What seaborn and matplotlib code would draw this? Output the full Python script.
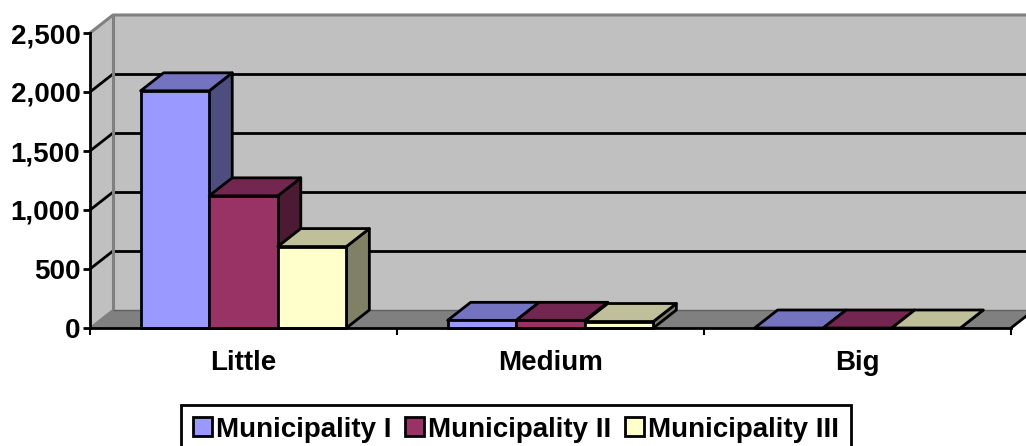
import numpy as np
import pandas as pd
import seaborn as sns
from matplotlib import pyplot as plt
from matplotlib.patches import Polygon

categories = ['Little', 'Medium', 'Big']
municipality_1 = [2010, 65, 0]
municipality_2 = [1120, 65, 0]
municipality_3 = [690, 55, 0]
series_names = ['Municipality I', 'Municipality II', 'Municipality III']
y_ticks = [0, 500, 1000, 1500, 2000, 2500]

front_colors = ['#9999FF', '#993366', '#FFFFCC']
top_colors = ['#7373BF', '#732650', '#BFBF99']
side_colors = ['#4D4D80', '#4D1A33', '#808066']

W, H = 1026, 446
depth_px = (23, 18)

df = pd.DataFrame({
    'category': categories * 3,
    'series': np.repeat(series_names, 3),
    'value': municipality_1 + municipality_2 + municipality_3,
})

sns.set_theme(style='white')
plt.rcParams['font.family'] = ['Liberation Sans', 'DejaVu Sans']
plt.rcParams['font.weight'] = 'bold'

fig = plt.figure(figsize=(W / 100, H / 100), dpi=100)
ax = fig.add_axes([90 / W, (H - 328) / H, 921 / W, 295 / H])
ax.patch.set_visible(False)

sns.barplot(data=df, x='category', y='value', hue='series', order=categories,
            hue_order=series_names, palette=front_colors, saturation=1,
            width=0.67, gap=0, edgecolor='black', linewidth=2, ax=ax)
ax.set_xlim(-0.5, 2.5)
ax.set_ylim(0, 2500)

# depth of the fake 3d box, in data units
dx = depth_px[0] * 3 / 921
dy = depth_px[1] * 2500 / 295
x0, x1 = ax.get_xlim()
y0, y1 = ax.get_ylim()


def add_poly(points, color, z, edge='none', lw=0):
    ax.add_patch(Polygon(points, closed=True, facecolor=color, edgecolor=edge,
                         linewidth=lw, clip_on=False, zorder=z,
                         joinstyle='round'))


# walls and floor
add_poly([(x0, y0), (x0 + dx, y0 + dy), (x0 + dx, y1 + dy), (x0, y1)], '#C0C0C0', 0.1)
add_poly([(x0 + dx, y0 + dy), (x1 + dx, y0 + dy), (x1 + dx, y1 + dy), (x0 + dx, y1 + dy)], '#C0C0C0', 0.1)
add_poly([(x0, y0), (x1, y0), (x1 + dx, y0 + dy), (x0 + dx, y0 + dy)], '#808080', 0.2)
ax.plot([x0, x0 + dx, x1 + dx], [y1, y1 + dy, y1 + dy],
        color='#808080', lw=2.2, clip_on=False, zorder=0.3)
ax.plot([x0 + dx, x0 + dx], [y0 + dy, y1 + dy], color='#808080', lw=2.2,
        clip_on=False, zorder=0.3)
ax.plot([x0 + dx, x1 + dx], [y0 + dy, y0 + dy], color='#606060', lw=1,
        clip_on=False, zorder=0.3)
ax.plot([x0, x0 + dx], [y0, y0 + dy], color='#808080', lw=1.5, clip_on=False, zorder=0.3)
ax.plot([x1, x1 + dx], [y0, y0 + dy], color='black', lw=2, clip_on=False, zorder=0.4)

# gridlines go along the back wall and down the side wall
for t in y_ticks[1:-1]:
    ax.plot([x0, x0 + dx], [t, t + dy], color='black', lw=2,
            clip_on=False, zorder=0.25)
    ax.plot([x0 + dx, x1 + dx], [t + dy, t + dy], color='black', lw=2,
            clip_on=False, zorder=0.25)

# side and top faces for every bar, left to right so they overlap right
bars = []
for i, container in enumerate(ax.containers):
    for bar in container:
        bars.append((bar.get_x(), i, bar))
bars.sort(key=lambda b: b[0])
for n, (x, i, bar) in enumerate(bars):
    w = bar.get_width()
    h = bar.get_height()
    z = 2 + n * 0.1
    add_poly([(x + w, 0), (x + w + dx, dy), (x + w + dx, h + dy), (x + w, h)],
             side_colors[i], z, 'black', 2)
    add_poly([(x, h), (x + w, h), (x + w + dx, h + dy), (x + dx, h + dy)],
             top_colors[i], z, 'black', 2)
    bar.set_zorder(z + 0.01)
    bar.set_clip_on(False)

for s in ['top', 'right']:
    ax.spines[s].set_visible(False)
for s in ['left', 'bottom']:
    ax.spines[s].set_linewidth(2)
    ax.spines[s].set_color('black')
    ax.spines[s].set_zorder(5)

ax.set_xlabel('')
ax.set_ylabel('')
ax.set_yticks(y_ticks)
ax.set_yticklabels([f'{t:,}' for t in y_ticks])
ax.set_xticks([-0.5, 0.5, 1.5, 2.5], minor=True)
ax.tick_params(axis='x', which='major', length=0, pad=16, labelsize=20, labelcolor='black')
ax.tick_params(axis='x', which='minor', length=5, width=1.5, color='black', bottom=True)
ax.tick_params(axis='y', length=5, width=2, color='black', left=True, pad=2,
               labelsize=20, labelcolor='black')

handles, labels = ax.get_legend_handles_labels()
ax.legend(handles, labels, ncol=3, loc='upper left',
          bbox_to_anchor=(181 / W, (H - 405) / H), bbox_transform=fig.transFigure,
          fontsize=20, frameon=True, fancybox=False, framealpha=1,
          edgecolor='black', borderaxespad=0, borderpad=0.42, handlelength=0.68,
          handleheight=0.68, handletextpad=0.15, columnspacing=0.5)
ax.get_legend().get_frame().set_linewidth(2)
for t in ax.get_legend().get_texts():
    t.set_color('black')
for h in ax.get_legend().legend_handles:
    h.set_linewidth(2)

fig.savefig('out.png', dpi=100)
